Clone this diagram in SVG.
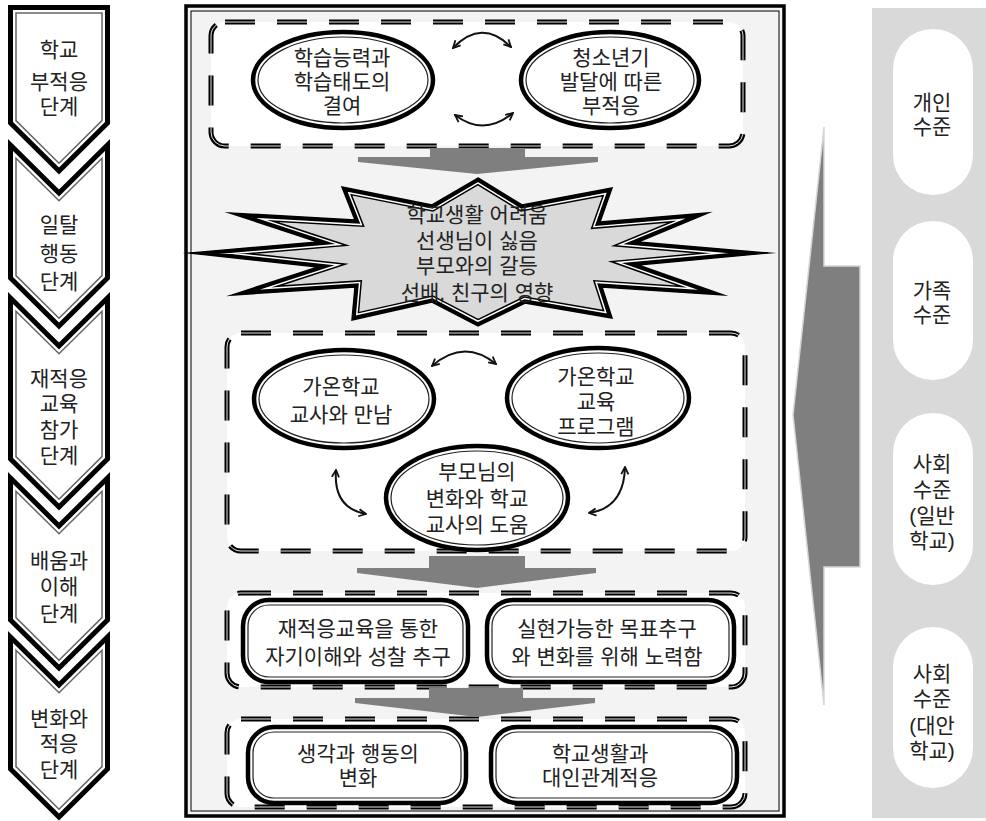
<svg xmlns="http://www.w3.org/2000/svg" width="986" height="821" viewBox="0 0 986 821">
<style>
.t{font-family:"Liberation Sans","Noto Sans CJK KR",sans-serif;font-size:21px;fill:#222;text-anchor:middle}
.co{fill:#fff;stroke:#000;stroke-width:5;stroke-linejoin:miter}
.ci{fill:none;stroke:#666;stroke-width:1.5;stroke-linejoin:miter}
.eo{fill:#fff;stroke:#000;stroke-width:4.5}
.ei{fill:none;stroke:#222;stroke-width:1.2}
.db{fill:#fff;stroke:#000;stroke-width:5;stroke-dasharray:30 22}
.dw{fill:none;stroke:#fff;stroke-width:0.9;stroke-dasharray:30 22}
.ga{fill:#7f7f7f}
.ca{fill:none;stroke:#111;stroke-width:2;marker-start:url(#ah);marker-end:url(#ah)}
.pill{fill:#fff}
</style>
<defs>
<marker id="ah" viewBox="0 0 10 10" refX="9" refY="5" markerWidth="9" markerHeight="9" markerUnits="userSpaceOnUse" orient="auto-start-reverse">
<path d="M1,1 L9,5 L1,9" fill="none" stroke="#111" stroke-width="2"/>
</marker>
<clipPath id="starclip"><path id="starp" d="M478,178 L522,205 L612,188 L600,222 L708,213 L638,242 L768,253 L638,265 L723,295 L602,287 L612,318 L525,303 L478,326 L432,302 L352,320 L355,287 L232,295 L318,267 L190,253 L318,242 L230,213 L355,220 L342,187 L432,205 Z"/></clipPath>
</defs>
<rect width="986" height="821" fill="#fff"/>

<!-- left stage chevrons -->
<g id="stage1">
<path class="co" d="M10.5,7.5 L107.5,7.5 L107.5,123 L59,171 L10.5,123 Z"/>
<path class="ci" d="M16,13 L102,13 L102,120.6 L59,163.2 L16,120.6 Z"/>
<text class="t" x="59" y="57">학교</text>
<text class="t" x="59" y="89">부적응</text>
<text class="t" x="59" y="114">단계</text>
</g>
<g id="stage2">
<path class="co" d="M10.5,145 L59,193 L107.5,145 L107.5,278 L59,326 L10.5,278 Z"/>
<path class="ci" d="M16,158.2 L59,200.8 L102,158.2 L102,275.6 L59,318.2 L16,275.6 Z"/>
<text class="t" x="59" y="232">일탈</text>
<text class="t" x="59" y="261">행동</text>
<text class="t" x="59" y="289">단계</text>
</g>
<g id="stage3">
<path class="co" d="M10.5,298 L59,346 L107.5,298 L107.5,459 L59,507 L10.5,459 Z"/>
<path class="ci" d="M16,311.2 L59,353.8 L102,311.2 L102,456.6 L59,499.2 L16,456.6 Z"/>
<text class="t" x="59" y="386">재적응</text>
<text class="t" x="59" y="411">교육</text>
<text class="t" x="59" y="437">참가</text>
<text class="t" x="59" y="463">단계</text>
</g>
<g id="stage4">
<path class="co" d="M10.5,478 L59,526 L107.5,478 L107.5,620 L59,668 L10.5,620 Z"/>
<path class="ci" d="M16,491.2 L59,533.8 L102,491.2 L102,617.6 L59,660.2 L16,617.6 Z"/>
<text class="t" x="59" y="568">배움과</text>
<text class="t" x="59" y="594">이해</text>
<text class="t" x="59" y="621">단계</text>
</g>
<g id="stage5">
<path class="co" d="M10.5,637 L59,685 L107.5,637 L107.5,769 L59,817 L10.5,769 Z"/>
<path class="ci" d="M16,650.2 L59,692.8 L102,650.2 L102,766.6 L59,809.2 L16,766.6 Z"/>
<text class="t" x="59" y="726">변화와</text>
<text class="t" x="59" y="751">적응</text>
<text class="t" x="59" y="777">단계</text>
</g>

<!-- central frame -->
<g id="frame">
<rect x="186" y="6" width="598" height="810" fill="#f2f3f2" stroke="#000" stroke-width="3.5"/>
<rect x="191" y="11" width="588" height="800" fill="none" stroke="#000" stroke-width="1"/>
</g>

<g id="box-top">
<rect class="db" x="211" y="22" width="532" height="124" rx="14"/>
<rect class="dw" x="211" y="22" width="532" height="124" rx="14"/>
</g>
<g id="box-mid">
<rect class="db" x="227" y="333" width="518" height="218" rx="14"/>
<rect class="dw" x="227" y="333" width="518" height="218" rx="14"/>
</g>
<g id="box-3">
<rect class="db" x="227" y="593" width="518" height="94" rx="14"/>
<rect class="dw" x="227" y="593" width="518" height="94" rx="14"/>
</g>
<g id="box-4">
<rect class="db" x="227" y="719" width="518" height="88" rx="14"/>
<rect class="dw" x="227" y="719" width="518" height="88" rx="14"/>
</g>

<g id="connectors">
<path class="ga" d="M430,148 L525,148 L525,157 L598,157 L598,162 L477,174 L358,162 L358,157 L430,157 Z"/>
<path class="ga" d="M429,556 L525,556 L525,568 L596,568 L596,573 L477,588 L357,573 L357,568 L429,568 Z"/>
<path class="ga" d="M429,688 L523,688 L523,698 L595,698 L595,703 L477,717 L355,703 L355,698 L429,698 Z"/>
<path class="ca" d="M453,48 Q482,18 511,47"/>
<path class="ca" d="M455,115 Q484,137 513,113"/>
<path class="ca" d="M432,366 Q464,338 496,364"/>
<path class="ca" d="M336,470 Q333,508 366,514"/>
<path class="ca" d="M625,467 Q624,508 589,513"/>
<path d="M824,127 L824,266 L860,266 L860,567 L824,567 L824,705 L793,415 Z" fill="#7f7f7f" stroke="#d6d6d6" stroke-width="1.5"/>
</g>

<g id="star">
<use href="#starp" fill="#d9d9d9"/>
<g clip-path="url(#starclip)" fill="none" stroke-linejoin="miter" stroke-miterlimit="20">
<use href="#starp" stroke="#000" stroke-width="13"/>
<use href="#starp" stroke="#fff" stroke-width="10"/>
<use href="#starp" stroke="#000" stroke-width="7"/>
</g>
<path d="M478,178 L522,205 L612,188 L600,222 L708,213 L638,242 L768,253 L638,265 L723,295 L602,287 L612,318 L525,303 L478,326 L432,302 L352,320 L355,287 L232,295 L318,267 L190,253 L318,242 L230,213 L355,220 L342,187 L432,205 Z" fill="none" stroke="#000" stroke-width="1.5" stroke-linejoin="miter" stroke-miterlimit="20"/>
<text class="t" x="477" y="222">학교생활 어려움</text>
<text class="t" x="477" y="248">선생님이 싫음</text>
<text class="t" x="477" y="273">부모와의 갈등</text>
<text class="t" x="477" y="300">선배, 친구의 영향</text>
</g>

<g id="e-learning">
<ellipse class="eo" cx="343" cy="80" rx="90" ry="48"/>
<ellipse class="ei" cx="343" cy="80" rx="85" ry="43"/>
<text class="t" x="342" y="65">학습능력과</text>
<text class="t" x="342" y="89">학습태도의</text>
<text class="t" x="342" y="113">결여</text>
</g>
<g id="e-youth">
<ellipse class="eo" cx="610" cy="80" rx="89" ry="48"/>
<ellipse class="ei" cx="610" cy="80" rx="84" ry="43"/>
<text class="t" x="611" y="65">청소년기</text>
<text class="t" x="611" y="89">발달에 따른</text>
<text class="t" x="611" y="113">부적응</text>
</g>

<g id="e-teacher">
<ellipse class="eo" cx="344" cy="399" rx="90" ry="49"/>
<ellipse class="ei" cx="344" cy="399" rx="85" ry="44"/>
<text class="t" x="341" y="394">가온학교</text>
<text class="t" x="341" y="422">교사와 만남</text>
</g>
<g id="e-program">
<ellipse class="eo" cx="598" cy="398" rx="91" ry="50"/>
<ellipse class="ei" cx="598" cy="398" rx="86" ry="45"/>
<text class="t" x="596" y="384">가온학교</text>
<text class="t" x="596" y="409">교육</text>
<text class="t" x="596" y="434">프로그램</text>
</g>
<g id="e-parents">
<ellipse class="eo" cx="477" cy="498" rx="91" ry="52"/>
<ellipse class="ei" cx="477" cy="498" rx="86" ry="47"/>
<text class="t" x="477" y="479">부모님의</text>
<text class="t" x="477" y="506">변화와 학교</text>
<text class="t" x="477" y="532">교사의 도움</text>
</g>

<g id="r-selfunderstanding">
<rect class="eo" x="243" y="600" width="225" height="82" rx="26"/>
<rect class="ei" x="248" y="605" width="215" height="72" rx="21"/>
<text class="t" x="358" y="636">재적응교육을 통한</text>
<text class="t" x="358" y="664">자기이해와 성찰 추구</text>
</g>
<g id="r-goal">
<rect class="eo" x="487" y="600" width="247" height="82" rx="26"/>
<rect class="ei" x="492" y="605" width="237" height="72" rx="21"/>
<text class="t" x="607" y="636">실현가능한 목표추구</text>
<text class="t" x="607" y="664">와 변화를 위해 노력함</text>
</g>
<g id="r-change">
<rect class="eo" x="248" y="727" width="218" height="76" rx="26"/>
<rect class="ei" x="253" y="732" width="208" height="66" rx="21"/>
<text class="t" x="358" y="761">생각과 행동의</text>
<text class="t" x="358" y="785">변화</text>
</g>
<g id="r-adapt">
<rect class="eo" x="491" y="727" width="246" height="76" rx="26"/>
<rect class="ei" x="496" y="732" width="236" height="66" rx="21"/>
<text class="t" x="600" y="761">학교생활과</text>
<text class="t" x="600" y="785">대인관계적응</text>
</g>

<!-- right level panel -->
<g id="levels">
<rect x="872" y="8" width="114" height="810" fill="#d9d9d9"/>
</g>
<g id="level-individual">
<rect class="pill" x="893" y="29" width="80" height="166" rx="40"/>
<text class="t" x="932" y="110">개인</text>
<text class="t" x="932" y="134">수준</text>
</g>
<g id="level-family">
<rect class="pill" x="893" y="221" width="80" height="159" rx="40"/>
<text class="t" x="932" y="298">가족</text>
<text class="t" x="932" y="322">수준</text>
</g>
<g id="level-social-general">
<rect class="pill" x="893" y="413" width="80" height="172" rx="40"/>
<text class="t" x="932" y="471">사회</text>
<text class="t" x="932" y="497">수준</text>
<text class="t" x="932" y="523">(일반</text>
<text class="t" x="932" y="548">학교)</text>
</g>
<g id="level-social-alt">
<rect class="pill" x="893" y="627" width="80" height="161" rx="40"/>
<text class="t" x="932" y="681">사회</text>
<text class="t" x="932" y="706">수준</text>
<text class="t" x="932" y="733">(대안</text>
<text class="t" x="932" y="758">학교)</text>
</g>
</svg>
